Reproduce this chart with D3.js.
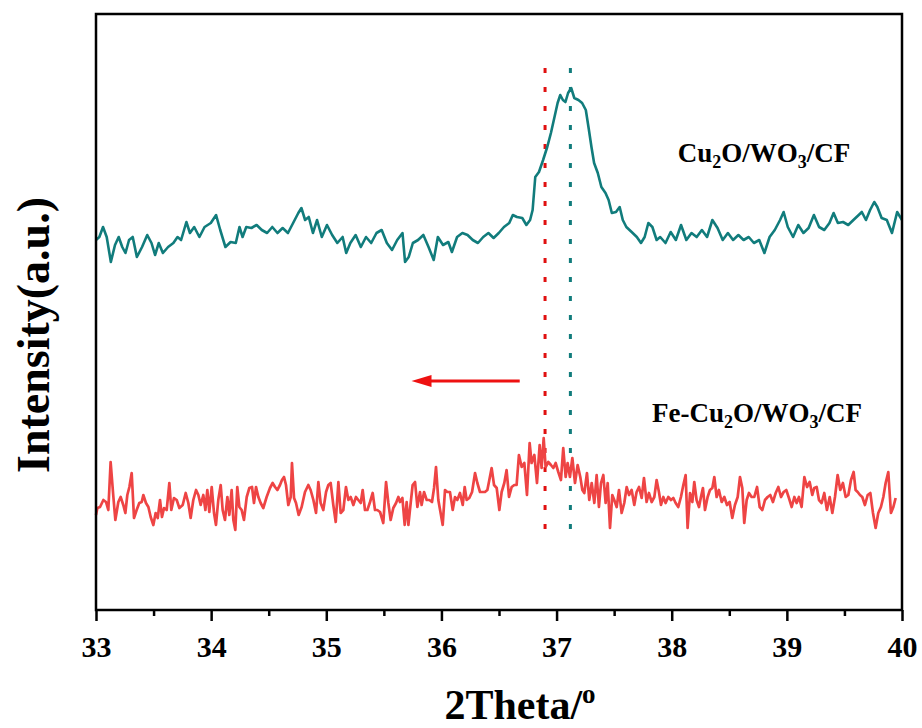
<!DOCTYPE html>
<html>
<head>
<meta charset="utf-8">
<script src="https://cdn.jsdelivr.net/npm/d3@7"></script>
<style>
  body { margin: 0; background: #fff; }
  text { font-family: "Liberation Serif", "Times New Roman", serif; font-weight: bold; }
</style>
</head>
<body>
<div id="chart"></div>
<script>
// 2Theta (deg) and intensity (a.u.)
var cuTheta = [33.000,33.029,33.061,33.093,33.129,33.165,33.197,33.228,33.256,33.287,33.319,33.355,33.400,33.445,33.482,33.513,33.545,33.581,33.626,33.672,33.708,33.739,33.785,33.816,33.853,33.898,33.943,33.997,34.043,34.079,34.124,34.169,34.214,34.246,34.273,34.305,34.350,34.395,34.440,34.486,34.531,34.576,34.621,34.667,34.712,34.757,34.784,34.816,34.848,34.884,34.920,34.961,35.006,35.051,35.096,35.142,35.173,35.209,35.255,35.300,35.345,35.390,35.436,35.481,35.526,35.571,35.616,35.662,35.684,35.716,35.752,35.797,35.843,35.888,35.933,35.969,36.014,36.060,36.091,36.136,36.182,36.227,36.272,36.317,36.363,36.408,36.453,36.498,36.543,36.589,36.620,36.656,36.702,36.738,36.770,36.792,36.815,36.847,36.883,36.919,36.951,36.982,37.009,37.032,37.055,37.077,37.100,37.127,37.154,37.190,37.222,37.254,37.281,37.303,37.326,37.358,37.389,37.425,37.452,37.480,37.516,37.548,37.575,37.606,37.652,37.697,37.733,37.765,37.797,37.832,37.869,37.900,37.946,37.991,38.036,38.081,38.127,38.172,38.217,38.262,38.307,38.353,38.398,38.443,38.488,38.533,38.579,38.624,38.669,38.714,38.760,38.805,38.850,38.895,38.941,38.972,39.008,39.054,39.099,39.144,39.189,39.235,39.280,39.325,39.370,39.406,39.443,39.488,39.533,39.578,39.624,39.651,39.687,39.723,39.759,39.786,39.823,39.868,39.913,39.958,40.000];
var cuInt = [370,373,383,373,348,365,373,363,357,370,373,353,363,375,367,355,367,357,363,367,373,370,388,377,383,373,383,387,395,380,363,368,367,383,373,383,382,385,380,377,383,377,382,377,387,397,402,390,393,377,390,373,385,375,367,373,357,367,375,363,373,367,377,380,367,360,370,377,348,353,367,370,375,363,350,373,365,368,358,373,377,375,370,367,373,377,372,377,383,387,395,393,392,385,390,400,433,438,450,463,477,493,507,515,510,508,517,522,512,510,507,500,480,463,447,437,423,417,410,397,398,403,390,383,378,373,367,373,387,383,370,373,367,378,370,385,370,377,373,380,373,390,382,370,377,370,375,370,373,367,370,357,373,380,390,398,383,373,385,377,382,395,383,380,387,397,387,388,385,390,395,398,390,400,408,403,392,390,377,398,390];

var feTheta = [33.000,33.012,33.035,33.064,33.087,33.107,33.127,33.151,33.168,33.194,33.214,33.237,33.255,33.272,33.290,33.310,33.330,33.353,33.376,33.397,33.411,33.434,33.455,33.475,33.498,33.518,33.536,33.556,33.573,33.591,33.614,33.637,33.654,33.677,33.701,33.724,33.753,33.779,33.802,33.822,33.845,33.869,33.889,33.909,33.932,33.950,33.967,33.984,34.005,34.025,34.042,34.062,34.083,34.100,34.120,34.141,34.158,34.178,34.193,34.210,34.227,34.245,34.265,34.285,34.309,34.332,34.355,34.372,34.390,34.410,34.430,34.453,34.482,34.511,34.534,34.555,34.575,34.598,34.615,34.633,34.650,34.670,34.691,34.702,34.720,34.737,34.760,34.786,34.815,34.844,34.864,34.888,34.911,34.931,34.951,34.974,34.998,35.018,35.038,35.061,35.082,35.105,35.125,35.148,35.171,35.192,35.212,35.235,35.258,35.278,35.299,35.316,35.336,35.357,35.380,35.403,35.423,35.443,35.467,35.495,35.519,35.539,35.559,35.582,35.606,35.626,35.640,35.661,35.681,35.698,35.713,35.733,35.750,35.771,35.791,35.814,35.828,35.849,35.872,35.895,35.918,35.936,35.953,35.973,35.993,36.011,36.031,36.051,36.074,36.098,36.118,36.138,36.161,36.185,36.202,36.219,36.242,36.266,36.292,36.312,36.335,36.358,36.378,36.399,36.416,36.436,36.457,36.480,36.503,
  36.523,36.546,36.566,36.587,36.610,36.633,36.653,36.673,36.697,36.720,36.743,36.766,36.783,36.807,36.830,36.853,36.870,36.888,36.905,36.928,36.951,36.972,36.992,37.015,37.038,37.058,37.079,37.096,37.116,37.137,37.160,37.183,37.206,37.224,37.241,37.264,37.284,37.305,37.328,37.348,37.368,37.386,37.406,37.426,37.444,37.464,37.484,37.501,37.522,37.542,37.565,37.588,37.609,37.629,37.652,37.675,37.695,37.716,37.739,37.759,37.782,37.802,37.826,37.849,37.869,37.889,37.907,37.927,37.947,37.970,37.994,38.014,38.034,38.057,38.080,38.101,38.121,38.138,38.159,38.179,38.196,38.216,38.237,38.254,38.271,38.289,38.312,38.332,38.353,38.370,38.390,38.410,38.434,38.457,38.480,38.503,38.526,38.549,38.573,38.593,38.613,38.630,38.651,38.671,38.694,38.717,38.741,38.764,38.787,38.810,38.833,38.856,38.879,38.903,38.926,38.949,38.972,38.995,39.018,39.042,39.065,39.085,39.105,39.128,39.152,39.175,39.198,39.221,39.238,39.259,39.279,39.302,39.325,39.348,39.372,39.395,39.418,39.441,39.464,39.487,39.511,39.534,39.557,39.580,39.597,39.615,39.635,39.655,39.678,39.702,39.725,39.748,39.771,39.794,39.817,39.838,39.858,39.881,39.904,39.925,39.945,39.968,40.000];
var feInt = [95,102,103,110,108,100,148,113,90,108,113,105,97,115,123,137,92,100,107,108,115,107,103,93,85,97,92,110,93,102,100,127,100,112,110,102,105,117,107,92,110,120,115,105,115,100,120,98,123,97,85,110,125,100,90,113,95,120,90,80,123,103,100,90,113,122,123,107,123,113,107,102,113,122,127,123,120,125,130,133,125,105,113,147,112,107,95,103,118,125,120,110,97,128,107,100,118,125,127,105,88,128,97,100,123,110,113,105,113,110,107,120,100,100,108,117,100,100,98,87,128,107,90,102,107,113,108,112,85,108,85,107,125,128,103,118,105,118,110,110,108,122,143,110,97,85,120,118,118,100,113,110,117,105,123,110,112,118,137,127,118,118,118,120,130,142,125,122,100,
  118,127,140,113,123,125,125,155,143,147,115,167,147,155,127,165,142,172,143,148,145,142,147,138,130,162,133,147,133,152,127,145,133,120,117,137,110,127,107,135,103,127,135,107,127,82,115,110,103,120,97,107,123,115,120,105,118,123,112,132,108,117,108,113,130,118,105,113,107,113,110,112,107,103,113,125,135,82,117,108,128,110,103,113,122,100,113,120,122,133,113,120,108,113,105,108,92,105,113,133,122,87,110,117,113,113,123,103,100,110,113,115,108,117,123,113,118,120,112,103,113,107,113,103,133,123,128,115,122,123,110,107,117,100,113,97,113,135,120,127,113,115,130,138,120,118,115,113,105,115,117,97,82,97,103,113,127,138,97,103,112];

var xTicks = [33, 34, 35, 36, 37, 38, 39, 40];
var xMinor = [33.5, 34.5, 35.5, 36.5, 37.5, 38.5, 39.5];
var peakLines = [{x: 36.90, color: '#e01010'}, {x: 37.12, color: '#117c7c'}];
var shiftArrow = {from: 36.68, to: 35.74, level: 229};

var cuColor = '#117c7c';
var feColor = '#ee4444';

var width = 922, height = 728;
var margin = {top: 14, right: 20, bottom: 118, left: 96};
var plotW = width - margin.left - margin.right;
var plotH = height - margin.top - margin.bottom;

var svg = d3.select('#chart').append('svg')
    .attr('width', width)
    .attr('height', height);

var x = d3.scaleLinear().domain([33, 40]).range([margin.left, margin.left + plotW]);
var y = d3.scaleLinear().domain([0, 596]).range([margin.top + plotH, margin.top]);

var line = d3.line()
    .x(function(d) { return x(d[0]); })
    .y(function(d) { return y(d[1]); });

var cu = d3.zip(cuTheta, cuInt);
var fe = d3.zip(feTheta, feInt);

// peak position guides
peakLines.forEach(function(p) {
  svg.append('line')
      .attr('x1', x(p.x)).attr('x2', x(p.x))
      .attr('y1', y(542)).attr('y2', y(70))
      .attr('stroke', p.color)
      .attr('stroke-width', 3)
      .attr('stroke-dasharray', '5,14');
});

svg.append('path')
    .datum(cu)
    .attr('fill', 'none')
    .attr('stroke', cuColor)
    .attr('stroke-width', 2.6)
    .attr('stroke-linejoin', 'round')
    .attr('d', line);

svg.append('path')
    .datum(fe)
    .attr('fill', 'none')
    .attr('stroke', feColor)
    .attr('stroke-width', 2.7)
    .attr('stroke-linejoin', 'round')
    .attr('d', line);

// shift arrow
var ay = y(shiftArrow.level);
svg.append('line')
    .attr('x1', x(shiftArrow.from)).attr('x2', x(shiftArrow.to) + 14)
    .attr('y1', ay).attr('y2', ay)
    .attr('stroke', '#ee1111')
    .attr('stroke-width', 3);
svg.append('path')
    .attr('d', 'M' + x(shiftArrow.to) + ',' + ay + 'L' + (x(shiftArrow.to) + 20) + ',' + (ay - 6) +
               'L' + (x(shiftArrow.to) + 20) + ',' + (ay + 6) + 'Z')
    .attr('fill', '#ee1111');

// frame
svg.append('rect')
    .attr('x', margin.left).attr('y', margin.top)
    .attr('width', plotW).attr('height', plotH)
    .attr('fill', 'none')
    .attr('stroke', '#000')
    .attr('stroke-width', 2.5);

var xAxis = svg.append('g')
    .attr('transform', 'translate(0,' + (margin.top + plotH) + ')')
    .call(d3.axisBottom(x).tickValues(xTicks).tickSize(11).tickPadding(15).tickFormat(d3.format('d')));
xAxis.select('.domain').remove();
xAxis.selectAll('line').attr('stroke-width', 2.5);
xAxis.selectAll('text')
    .style('font-family', '"Liberation Serif", serif')
    .style('font-weight', 'bold')
    .style('font-size', '30px')
    .attr('fill', '#000');

svg.append('g')
    .attr('transform', 'translate(0,' + (margin.top + plotH) + ')')
    .call(d3.axisBottom(x).tickValues(xMinor).tickSize(6).tickFormat(''))
    .call(function(g) {
      g.select('.domain').remove();
      g.selectAll('line').attr('stroke-width', 2.5);
    });

// axis titles
var xt = svg.append('text')
    .attr('x', 520)
    .attr('y', 719)
    .attr('text-anchor', 'middle')
    .style('font-size', '42px')
    .text('2Theta/');
xt.append('tspan')
    .attr('dy', -16)
    .style('font-size', '27px')
    .text('o');

svg.append('text')
    .attr('transform', 'translate(49,' + 335 + ') rotate(-90)')
    .attr('text-anchor', 'middle')
    .style('font-size', '46px')
    .text('Intensity(a.u.)');

// sample labels
function sampleLabel(prefix, cx, by) {
  var t = svg.append('text')
      .attr('x', cx).attr('y', by)
      .attr('text-anchor', 'middle')
      .style('font-size', '27px');
  t.append('tspan').text(prefix + 'Cu');
  t.append('tspan').attr('dy', 6).style('font-size', '18px').text('2');
  t.append('tspan').attr('dy', -6).text('O/WO');
  t.append('tspan').attr('dy', 6).style('font-size', '18px').text('3');
  t.append('tspan').attr('dy', -6).text('/CF');
}
sampleLabel('', 764, 162);
sampleLabel('Fe-', 757, 422);
</script>
</body>
</html>
